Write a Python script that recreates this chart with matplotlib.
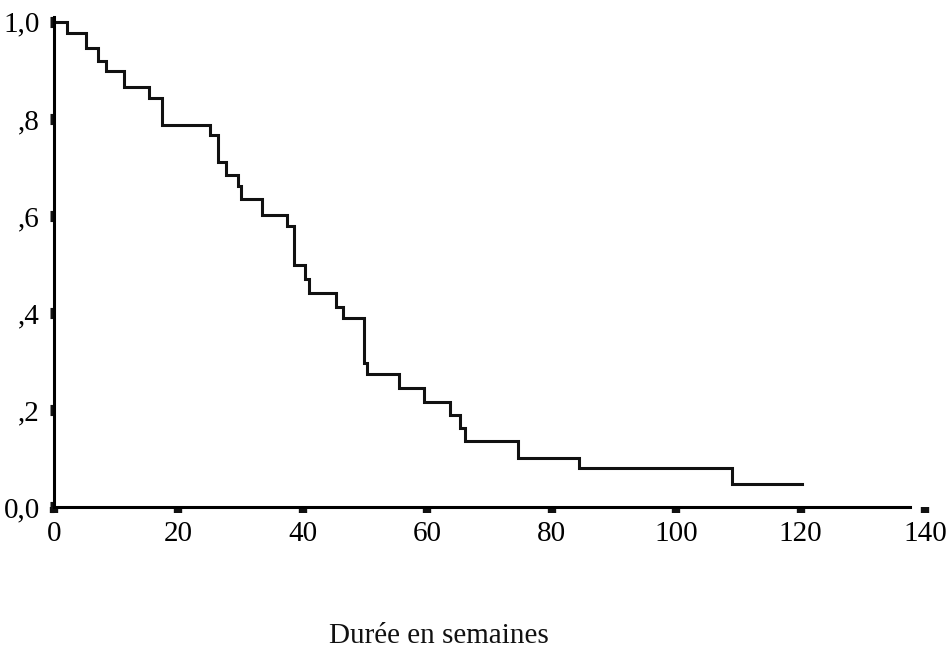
import numpy as np
import matplotlib
matplotlib.use("Agg")
import matplotlib.pyplot as plt

# Courbe de survie (Kaplan-Meier)
temps = [0, 2.1, 5.2, 7.0, 8.4, 11.3, 15.2, 17.3, 25.1, 26.4, 27.7, 29.6, 30.0,
         33.5, 37.4, 38.6, 40.4, 41.0, 45.4, 46.4, 49.8, 50.3, 55.5, 59.4,
         63.7, 65.3, 66.1, 74.6, 84.4, 108.9, 120.2]
survie = [1.0, 0.977, 0.947, 0.920, 0.899, 0.865, 0.843, 0.788, 0.767, 0.712,
          0.685, 0.662, 0.634, 0.602, 0.579, 0.499, 0.470, 0.442, 0.413, 0.389,
          0.296, 0.274, 0.245, 0.217, 0.190, 0.162, 0.136, 0.102, 0.080, 0.047,
          0.047]

x_ticks = [0, 20, 40, 60, 80, 100, 120, 140]
y_ticks = [0.0, 0.2, 0.4, 0.6, 0.8, 1.0]
y_labels = ["0,0", ",2", ",4", ",6", ",8", "1,0"]

plt.rcParams['font.family'] = ['Liberation Serif', 'DejaVu Serif']

W, H = 948, 651
fig = plt.figure(figsize=(W / 100, H / 100), dpi=100)
# axes placees en pixels : x 0->54px, 140->925px ; y 0->507px, 1.01->17px
left, right = 54, 925
bottom, top = 507, 17
ax = fig.add_axes([left / W, (H - bottom) / H, (right - left) / W, (bottom - top) / H])

ax.step(temps, survie, where='post', color='#111111', lw=2.2, solid_joinstyle='miter')

ax.set_xlim(0, 140)
ax.set_ylim(0, 1.01)

for s in ['top', 'right']:
    ax.spines[s].set_visible(False)
ax.spines['bottom'].set_bounds(0, 137.6)
ax.spines['bottom'].set_linewidth(2.2)
ax.spines['left'].set_linewidth(2.2)

ax.set_xticks(x_ticks)
ax.set_xticklabels([str(t) for t in x_ticks])
ax.set_yticks(y_ticks)
ax.set_yticklabels(y_labels)

ax.tick_params(axis='x', direction='out', length=4, width=6, pad=6,
               labelsize=21, color='#111111')
ax.tick_params(axis='y', direction='out', length=3, width=8, pad=7,
               labelsize=21, color='#111111')

fig.text(439 / W, 8 / H, "Durée en semaines", ha='center', va='baseline',
         fontsize=21, color='#111111')

fig.savefig("out.png", dpi=100)
